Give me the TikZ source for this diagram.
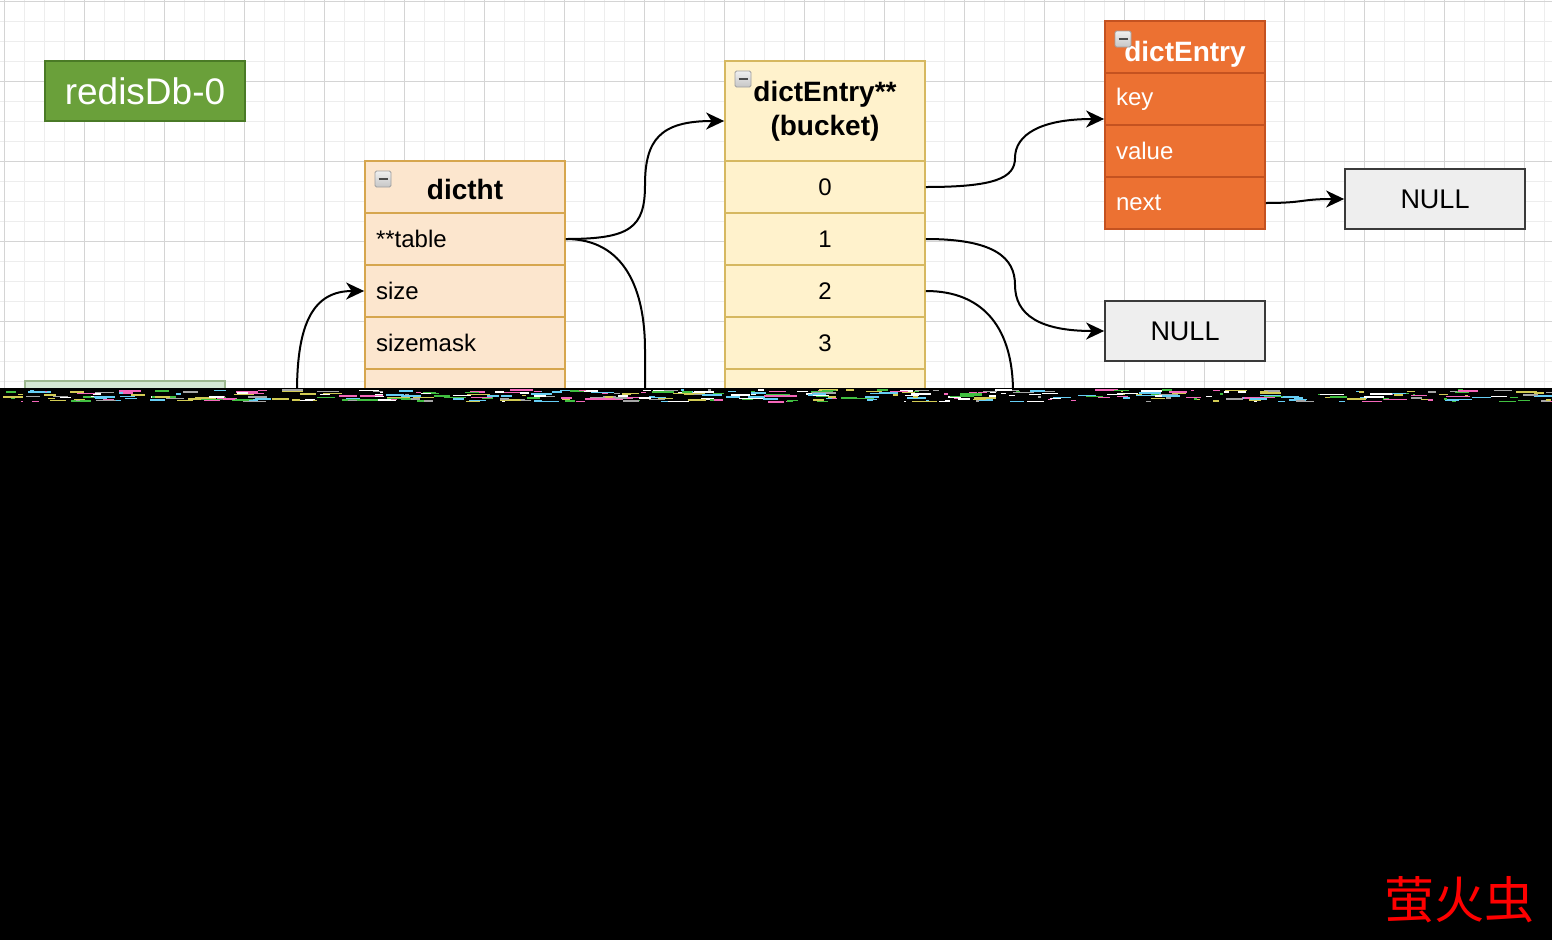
\documentclass[tikz,border=0pt]{standalone}
\usepackage{fontspec}
\setmainfont{Liberation Sans}
\newfontfamily\cjk{Noto Sans CJK SC}
\usetikzlibrary{arrows.meta}
\definecolor{gridminor}{HTML}{EDEDED}
\definecolor{gridmajor}{HTML}{D4D4D4}
\definecolor{dbfill}{RGB}{106,160,58}
\definecolor{dbline}{RGB}{74,122,38}
\definecolor{htfill}{HTML}{FCE6CE}
\definecolor{htline}{RGB}{214,166,78}
\definecolor{bkfill}{HTML}{FFF2CC}
\definecolor{bkline}{RGB}{214,184,96}
\definecolor{defill}{RGB}{236,113,50}
\definecolor{deline}{RGB}{196,82,32}
\definecolor{nullfill}{HTML}{EEEEEE}
\definecolor{nullline}{HTML}{3A3A3A}
\definecolor{gfill}{HTML}{D5E8D4}
\definecolor{gline}{HTML}{9DB88F}
\tikzset{
  box/.style={rectangle, line width=1.8pt, inner sep=0pt},
  dbbox/.style={box, draw=dbline, fill=dbfill, text=white, minimum width=200pt, minimum height=60pt, font=\fontsize{37}{40}\selectfont},
  hthead/.style={box, draw=htline, fill=htfill, minimum width=200pt, minimum height=52pt},
  htrow/.style={box, draw=htline, fill=htfill, minimum height=52pt, text width=178pt, inner xsep=11pt, align=left, font=\fontsize{24}{28}\selectfont},
  bkhead/.style={box, draw=bkline, fill=bkfill, minimum width=200pt, minimum height=100pt, align=center, font=\bfseries\fontsize{28}{34}\selectfont},
  bkrow/.style={box, draw=bkline, fill=bkfill, minimum width=200pt, minimum height=52pt, font=\fontsize{24}{28}\selectfont},
  dehead/.style={box, draw=deline, fill=defill, minimum width=160pt, minimum height=52pt},
  headtext/.style={inner sep=0pt, font=\bfseries\fontsize{28}{32}\selectfont},
  derow/.style={box, draw=deline, fill=defill, text=white, minimum height=52pt, text width=138pt, inner xsep=11pt, align=left, font=\fontsize{24}{28}\selectfont},
  nullbox/.style={box, draw=nullline, fill=nullfill, minimum height=60pt, font=\fontsize{27}{30}\selectfont},
  icon/.style={rectangle, draw=gray!75, top color=gray!12, bottom color=gray!45, line width=0.8pt, minimum size=16pt, inner sep=0pt, rounded corners=1.5pt,
    path picture={\draw[line width=2.8pt, black!70] ([xshift=3.5pt]path picture bounding box.west) -- ([xshift=-3.5pt]path picture bounding box.east);}},
  arr/.style={line width=2pt, -{Stealth[length=18pt,width=17pt,inset=5.5pt]}},
  wire/.style={line width=2pt},
}
\begin{document}
\begin{tikzpicture}[x=1pt,y=-1pt]
\useasboundingbox (0,0) rectangle (1552,940);
\fill[white] (0,0) rectangle (1552,940);
% grid
\foreach \x in {4,24,...,1544} \draw[gridminor, line width=0.8pt] (\x,0) -- (\x,390);
\foreach \y in {1,21,...,381} \draw[gridminor, line width=0.8pt] (0,\y) -- (1552,\y);
\foreach \x in {4,84,...,1524} \draw[gridmajor, line width=0.9pt] (\x,0) -- (\x,390);
\foreach \y in {1,81,...,321} \draw[gridmajor, line width=0.9pt] (0,\y) -- (1552,\y);

% redisDb-0
\node[dbbox] (db) at (145,91) {redisDb-0};

% green box at bottom left (cut)
\node[box, draw=gline, fill=gfill, minimum width=200pt, minimum height=60pt] (g) at (125,411) {};

% dictht
\node[hthead] (hth) at (465,187) {};
\node[headtext] (htht) at (465,189) {dictht};
\node[htrow] (htable) at (465,239) {**table};
\node[htrow] (hsize) at (465,291) {size};
\node[htrow] (hmask) at (465,343) {sizemask};
\node[htrow] (hused) at (465,395) {};
\node[icon] (i1) at (383,179) {};

% bucket
\node[bkhead] (bkh) at (825,111) {dictEntry**\\(bucket)};
\node[bkrow] (b0) at (825,187) {0};
\node[bkrow] (b1) at (825,239) {1};
\node[bkrow] (b2) at (825,291) {2};
\node[bkrow] (b3) at (825,343) {3};
\node[bkrow] (b4) at (825,395) {};
\node[icon] (i2) at (743,79) {};

% dictEntry
\node[dehead] (deh) at (1185,47) {};
\node[headtext, text=white] (deht) at (1185,54) {dictEntry};
\node[derow] (dkey) at (1185,99) {key};
\node[derow] (dval) at (1185,151) {value};
\node[derow] (dnext) at (1185,203) {next};
\node[icon] (i3) at (1123,39) {};

% NULL boxes
\node[nullbox, minimum width=180pt] (null1) at (1435,199) {NULL};
\node[nullbox, minimum width=160pt] (null2) at (1185,331) {NULL};

% loose ends
\coordinate (c1) at (297,392);
\coordinate (c3) at (645,392);
\coordinate (c6) at (1013,392);
\coordinate (bkin) at ([yshift=-10pt]bkh.west);
\coordinate (dein) at ([yshift=-20pt]dkey.west);

% connectors
\draw[arr] (c1) .. controls (297,322) and (314,291) .. (hsize.west);
\draw[arr] (htable.east) .. controls (630,239) and (645,228) .. (645,185) .. controls (645,140) and (660,121) .. (bkin);
\draw[wire] (htable.east) .. controls (625,239) and (645,290) .. (645,350) -- (c3);
\draw[arr] (b0.east) .. controls (995,187) and (1015,178) .. (1015,158) .. controls (1015,135) and (1040,119) .. (dein);
\draw[arr] (b1.east) .. controls (995,239) and (1015,258) .. (1015,285) .. controls (1015,315) and (1040,331) .. (null2.west);
\draw[wire] (b2.east) .. controls (985,291) and (1013,330) .. (c6);
\draw[arr] (dnext.east) .. controls (1305,203) and (1300,199) .. (null1.west);

% corrupted lower part
\fill[black] (0,388) rectangle (1552,940);
\pgfmathsetseed{7}
\foreach \i in {1,...,420} {
  \pgfmathsetmacro{\px}{rnd*1552}
  \pgfmathsetmacro{\py}{389+rnd*12}
  \pgfmathsetmacro{\pw}{2+rnd*22}
  \pgfmathsetmacro{\pc}{int(rnd*6)}
  \ifcase\pc\relax
    \def\cc{white}\or\def\cc{gray!70}\or\def\cc{cyan!60}\or\def\cc{magenta!60}\or\def\cc{green!50!gray}\else\def\cc{yellow!60!gray}\fi
  \fill[\cc] (\px,\py) rectangle (\px+\pw,\py+1.5);
}

% watermark
\node[text=red, font=\cjk\fontsize{50}{50}\selectfont, inner sep=0pt] (wm) at (1459,900) {萤火虫};
\end{tikzpicture}
\end{document}
